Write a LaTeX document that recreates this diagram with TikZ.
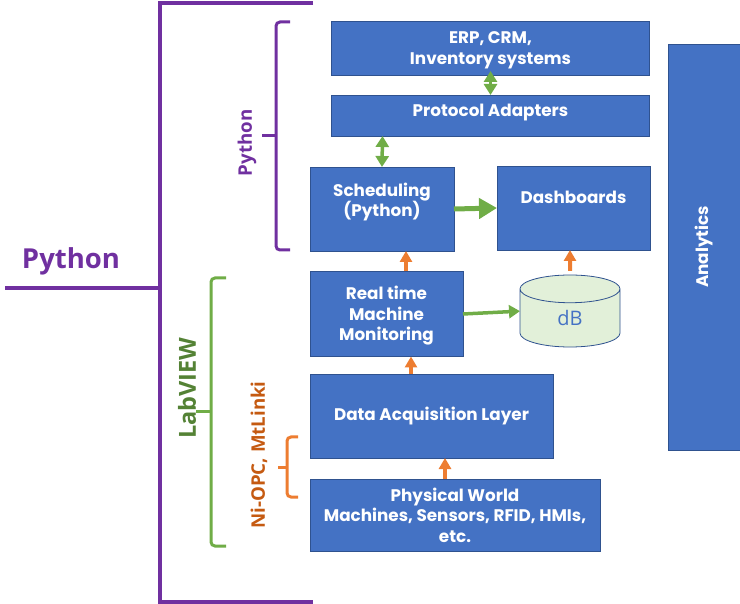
\documentclass[tikz,border=0pt]{standalone}
\usepackage{fontspec}
\setmainfont{Open Sans}
\newfontfamily\boxfont{Poppins}
\usetikzlibrary{
  arrows.meta,
  positioning,
  shapes.geometric
}
\definecolor{fdblue}{HTML}{4472C4}
\definecolor{fdedge}{HTML}{2F528F}
\definecolor{fdpurple}{HTML}{7030A0}
\definecolor{fdgreen}{HTML}{70AD47}
\definecolor{fddarkgreen}{HTML}{548235}
\definecolor{fdorange}{HTML}{ED7D31}
\definecolor{fdrust}{HTML}{C55A11}
\definecolor{fdpale}{HTML}{E2F0D9}

\begin{document}
\begin{tikzpicture}[
      x=1pt, y=-1pt,
      box/.style={
        rectangle, draw=fdedge, line width=0.8pt, fill=fdblue, outer sep=0pt, inner sep=0pt,
        font=\boxfont\bfseries\fontsize{16.8}{20.5}\selectfont\color{white}, align=center
      },
      dbcyl/.style={
        cylinder, shape border rotate=90, aspect=1.1, outer sep=0pt, inner sep=0pt,
        minimum width=100pt, minimum height=72pt, anchor=shape center,
        draw=fdedge, line width=0.8pt, fill=fdpale,
        font=\fontsize{20}{24}\selectfont\color{fdblue}
      },
      greenarrow/.style={-{Triangle[length=11pt,width=13pt]}, line width=3.5pt, fdgreen},
      bigarrow/.style={-{Triangle[length=18pt,width=20pt]}, line width=5pt, fdgreen},
      twoarrow/.style={{Triangle[length=11pt,width=13pt]}-{Triangle[length=11pt,width=13pt]}, line width=3.5pt, fdgreen},
      orangearrow/.style={-{Triangle[length=11pt,width=12pt]}, line width=4pt, fdorange},
      bracket/.style={line width=3pt, rounded corners=4pt},
      sidelabel/.style={rotate=90, font=\bfseries\fontsize{18.7}{22}\selectfont}
    ]
      \useasboundingbox (0,0) rectangle (740,604);

      \node[box, minimum width=318.5pt, minimum height=54pt] (erp) at (490.5,48) {\rule{0pt}{16pt}ERP, CRM,\\Inventory systems};
      \node[box, minimum width=318.5pt, minimum height=41pt, below=20pt of erp] (adapters) {Protocol Adapters\\[-11pt]\mbox{}};
      \node[box, minimum width=144pt, minimum height=84pt] (scheduling) at (382,209) {Scheduling\\(Python)\\[-2pt]\mbox{}};
      \node[box, minimum width=153pt, minimum height=84pt] (dashboards) at (573.5,208) {Dashboards\\\mbox{}};
      \node[box, minimum width=153pt, minimum height=85pt] (realtime) at (386.5,314) {\rule{0pt}{17pt}Real time\\Machine\\Monitoring};
      \node[box, minimum width=243pt, minimum height=84pt] (daq) at (431.5,416) {Data Acquisition Layer};
      \node[box, minimum width=290pt, minimum height=72pt] (physical) at (455,515) {Physical World\\Machines, Sensors, RFID, HMIs,\\etc.};
      \node[box, minimum width=72pt, minimum height=406pt] (analytics) at (704,247) {\rotatebox{90}{Analytics}};
      \node[dbcyl] (db) at (570,311) {dB};

      % left hand tree
      \draw[fdpurple, line width=4pt] (313,3) -- (160,3) -- (160,602) -- (313,602);
      \draw[fdpurple, line width=4pt] (5,288) -- (160,288);
      \node[text=fdpurple, font=\bfseries\fontsize{27.5}{30}\selectfont] (python) at (71,261) {Python};

      \draw[bracket, fdpurple] (290,22) -- (276,22) -- (276,250) -- (290,250);
      \draw[fdpurple, line width=3pt] (262,136) -- (276,136);
      \node[sidelabel, text=fdpurple] (pythonside) at (247,143) {Python};

      \node[rotate=90, text=fddarkgreen, font=\bfseries\fontsize{23.5}{26}\selectfont] (labview) at (187,388) {LabVIEW};
      \draw[bracket, fdgreen] (226,278) -- (211,278) -- (211,546) -- (226,546);
      \draw[fdgreen, line width=3pt] (196,412) -- (211,412);

      \draw[bracket, fdorange] (298,437) -- (287,437) -- (287,497) -- (298,497);
      \draw[fdorange, line width=3pt] (278,467) -- (287,467);
      \node[sidelabel, text=fdrust] (opc) at (259,455) {Ni-OPC, MtLinki};

      \draw[twoarrow] ([yshift=4pt]erp.south) -- (adapters.north);
      \draw[twoarrow] ([xshift=-108pt]adapters.south) -- (scheduling.north);
      \draw[bigarrow] (scheduling.east) -- (dashboards.west);
      \draw[greenarrow] (realtime.east) -- ([yshift=7pt]db.west);
      \draw[orangearrow] ([xshift=19.5pt]realtime.north) -- ([xshift=24pt]scheduling.south);
      \draw[orangearrow] ([yshift=4pt]db.north) -- ([xshift=-3.5pt]dashboards.south);
      \draw[orangearrow] ([xshift=-20.5pt]daq.north) -- ([xshift=24.5pt]realtime.south);
      \draw[orangearrow] ([xshift=-10pt]physical.north) -- ([xshift=13.5pt]daq.south);
    \end{tikzpicture}
\end{document}
